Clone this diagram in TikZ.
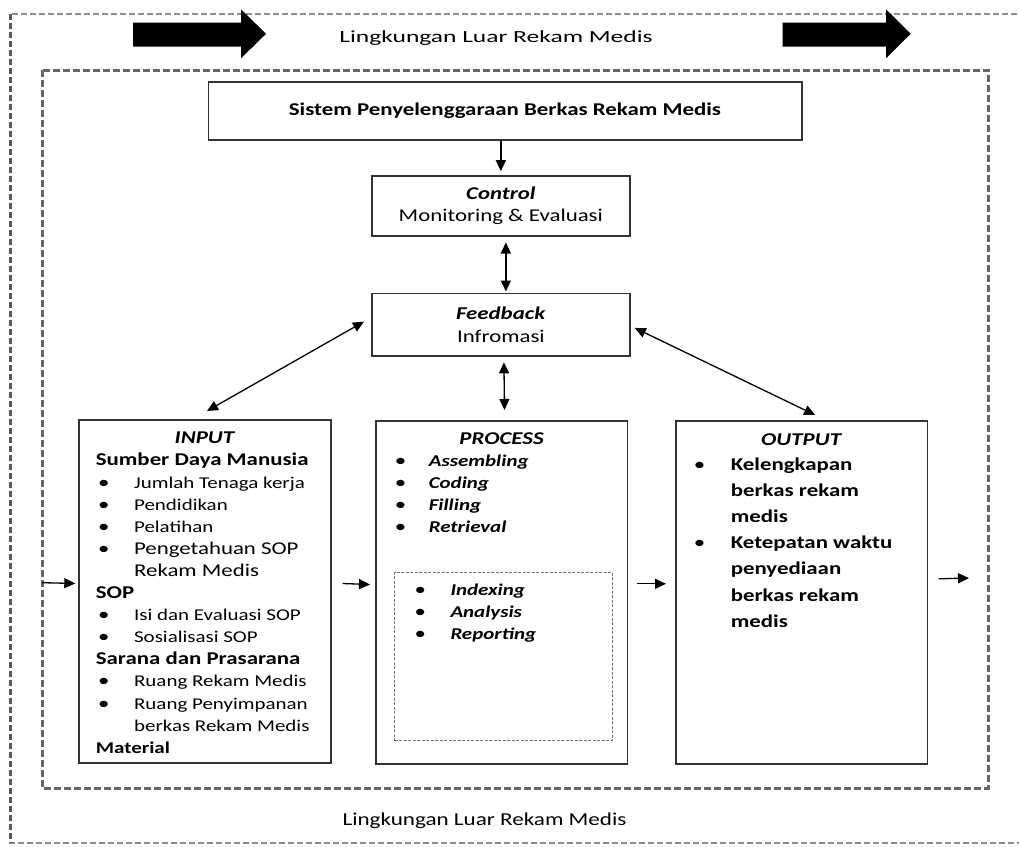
\documentclass[tikz,border=0pt]{standalone}
\usepackage{fontspec}
\setmainfont{Carlito}[FakeStretch=1.27]
\newfontfamily\widefont{Carlito}[FakeStretch=1.5]
\usetikzlibrary{arrows.meta}

\tikzstyle{envbox} = [draw=black!45, dash pattern=on 6pt off 3pt, line width=1.3pt]
\tikzstyle{sysbox} = [draw=black!60, dash pattern=on 7pt off 3pt, line width=3pt]
\tikzstyle{mybox} = [draw=black!80, line width=1.6pt, rectangle, fill=white, inner sep=0pt]
\tikzstyle{subbox} = [draw=black!55, dash pattern=on 3pt off 1.5pt, line width=1pt, rectangle, inner sep=0pt]
\tikzstyle{flow} = [line width=1.3pt, -{Triangle[length=11pt,width=10pt]}]
\tikzstyle{link} = [line width=1.3pt, {Triangle[length=11pt,width=10pt]}-{Triangle[length=11pt,width=10pt]}]
\tikzstyle{body} = [font=\fontsize{18}{22}\selectfont]

\newcommand{\itm}[3]{\hspace*{#1}\makebox[#2][l]{\textbullet}#3}
\newcommand{\hd}[1]{\hspace*{16.7pt}\textbf{#1}}
\newcommand{\sm}[1]{{\fontsize{16.5}{22.1}\selectfont #1}}

\begin{document}
\begin{tikzpicture}[x=1pt,y=-1pt]
\useasboundingbox (0,0) rectangle (1019,846);
\draw[envbox] (10,14) rectangle (1030,843);
\draw[envbox, draw=black!65, line width=3pt] (10,14) -- (10,843);
\draw[sysbox] (42,70) rectangle (988,788);

\foreach \xa/\xb/\xc in {133/241/266, 782.7/886/910.7}
  \fill (\xa,22.7) -- (\xb,22.7) -- (\xb,9.3) -- (\xc,33.8) -- (\xb,58.3) -- (\xb,46.7) -- (\xa,46.7) -- cycle;

\node[anchor=base, font=\widefont\fontsize{17}{20}\selectfont] (outtop) at (496,42.5) {Lingkungan Luar Rekam Medis};
\node[anchor=base, font=\fontsize{18.2}{22}\selectfont] (outbot) at (484.5,825) {Lingkungan Luar Rekam Medis};

\node[mybox, body, minimum width=593.4pt, minimum height=58.3pt] (system) at (505,111)
  {\textbf{Sistem Penyelenggaraan Berkas Rekam Medis}};
\node[mybox, align=center, font=\fontsize{18}{21.3}\selectfont, minimum width=258.3pt, minimum height=59.7pt] (control) at (500.85,205.85)
  {\textbf{\textit{Control}}\\Monitoring \& Evaluasi};
\node[mybox, align=center, font=\fontsize{18}{23}\selectfont, minimum width=258.3pt, minimum height=62.7pt] (feedback) at (500.85,324.65)
  {\textbf{\textit{Feedback}}\\Infromasi};

\node[mybox, anchor=north west] (input) at (78.3,419) {%
  \begin{minipage}[c][343pt][t]{251.7pt}
    \fontsize{18}{22.1}\selectfont
    \rule{0pt}{24pt}\makebox[\linewidth]{\textbf{\textit{INPUT}}}\\
    \hd{Sumber Daya Manusia}\\
    \itm{19pt}{36pt}{\sm{Jumlah Tenaga kerja}}\\
    \itm{19pt}{36pt}{\sm{Pendidikan}}\\
    \itm{19pt}{36pt}{\sm{Pelatihan}}\\
    \itm{19pt}{36pt}{Pengetahuan SOP}\\
    \hspace*{55pt}Rekam Medis\\
    \hd{SOP}\\
    \itm{19pt}{36pt}{\sm{Isi dan Evaluasi SOP}}\\
    \itm{19pt}{36pt}{\sm{Sosialisasi SOP}}\\
    \hd{Sarana dan Prasarana}\\
    \itm{19pt}{36pt}{\sm{Ruang Rekam Medis}}\\
    \itm{19pt}{36pt}{\sm{Ruang Penyimpanan}}\\
    \hspace*{55pt}\sm{berkas Rekam Medis}\\
    \hd{\sm{Material}}
  \end{minipage}};

\node[mybox, anchor=north west] (process) at (375,420) {%
  \begin{minipage}[c][343pt][t]{251.7pt}
    \fontsize{18}{21.9}\selectfont
    \rule{0pt}{24pt}\makebox[\linewidth]{\textbf{\textit{PROCESS}}}\\
    \itm{19pt}{34pt}{\sm{\textbf{\textit{Assembling}}}}\\
    \itm{19pt}{34pt}{\sm{\textbf{\textit{Coding}}}}\\
    \itm{19pt}{34pt}{\sm{\textbf{\textit{Filling}}}}\\
    \itm{19pt}{34pt}{\sm{\textbf{\textit{Retrieval}}}}
  \end{minipage}};

\node[subbox, anchor=north west] (archive) at (394,571.7) {%
  \begin{minipage}[c][168.3pt][t]{217.7pt}
    \fontsize{18}{22}\selectfont
    \rule{0pt}{23.3pt}\itm{20pt}{36pt}{\sm{\textbf{\textit{Indexing}}}}\\
    \itm{20pt}{36pt}{\sm{\textbf{\textit{Analysis}}}}\\
    \itm{20pt}{36pt}{\sm{\textbf{\textit{Reporting}}}}
  \end{minipage}};

\node[mybox, anchor=north west] (output) at (675,420) {%
  \begin{minipage}[c][343pt][t]{251.7pt}
    \fontsize{18}{26.2}\selectfont
    \rule{0pt}{25pt}\makebox[\linewidth]{\textbf{\textit{OUTPUT}}}\\[-1.9pt]
    \itm{18pt}{37pt}{\textbf{Kelengkapan}}\\
    \hspace*{55pt}\textbf{berkas rekam}\\
    \hspace*{55pt}\textbf{medis}\\
    \itm{18pt}{37pt}{\textbf{Ketepatan waktu}}\\
    \hspace*{55pt}\textbf{penyediaan}\\
    \hspace*{55pt}\textbf{berkas rekam}\\
    \hspace*{55pt}\textbf{medis}
  \end{minipage}};

\coordinate (entry) at (42,582.7);
\coordinate (exit) at (969,578);

\draw[flow, shorten >=4pt] (system.south -| control.north) -- (control.north);
\draw[link, shorten <=6pt, shorten >=1pt] ([xshift=5pt]control.south) -- ([xshift=5pt]feedback.north);
\draw[link, shorten <=5.5pt, shorten >=10pt] ([xshift=3pt]feedback.south) -- ([xshift=3pt]process.north);
\draw[link] ([shift={(-7pt,3pt)}]feedback.west) -- ([shift={(2pt,8pt)}]input.north);
\draw[link] ([shift={(4pt,-3.3pt)}]feedback.east) -- ([shift={(13.5pt,5pt)}]output.north);

\draw[flow, shorten >=3pt] (entry) -- ([yshift=7.8pt]input.west);
\draw[flow] ([shift={(11pt,7.8pt)}]input.east) -- ([shift={(-5pt,7.8pt)}]process.west);
\draw[flow] ([shift={(9pt,8.5pt)}]process.east) -- ([shift={(-9pt,8.5pt)}]output.west);
\draw[flow] ([shift={(10.3pt,13.5pt)}]output.east) -- (exit);
\end{tikzpicture}
\end{document}
